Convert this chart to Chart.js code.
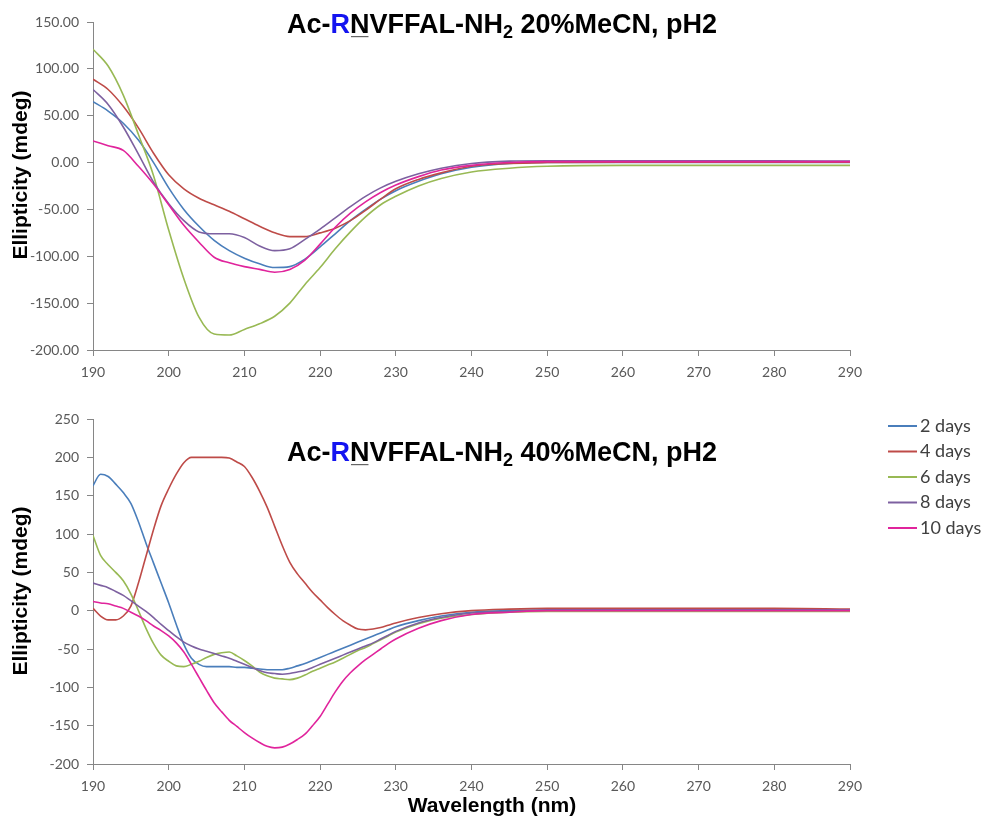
<!DOCTYPE html>
<html>
<head>
<meta charset="utf-8">
<script src="https://cdn.jsdelivr.net/npm/chart.js@4.4.0/dist/chart.umd.min.js"></script>
<style>
  body { margin: 0; background: #fff; }
  canvas { display: block; }
</style>
</head>
<body>
<canvas id="topChart" width="987" height="380"></canvas>
<canvas id="bottomChart" width="987" height="440"></canvas>
<script>
// ---- DATA: 20% MeCN panel ----
const topWavelengths = [190,192,194,196,198,200,202,204,206,208,210,212,214,216,218,220,222,224,226,228,230,233,236,240,245,250,260,270,280,290];
const top2days  = [65,55,42,24,0,-27,-50,-68,-83,-94,-102,-108,-112,-111,-103,-90,-76,-62,-50,-39,-30,-20,-12,-5,-1,0,0,0,0,0];
const top4days  = [89,78,60,37,10,-13,-28,-38,-45,-52,-60,-68,-75,-79,-79,-75,-70,-62,-51,-39,-28,-18,-11,-4,-1,0,0.5,0.5,0.5,0.5];
const top6days  = [121,103,72,30,-14,-72,-124,-165,-183,-184,-178,-172,-164,-150,-130,-112,-92,-74,-58,-45,-36,-25,-17,-10,-6,-4,-3,-3,-3,-3];
const top8days  = [78,62,38,9,-21,-44,-62,-74,-76,-76,-80,-89,-94,-92,-82,-71,-59,-47,-36,-27,-20,-12,-6,-1,1.5,2,2,2,2,1.5];
const top10days = [23,18,13,-4,-23,-45,-67,-85,-101,-107,-111,-114,-117,-114,-104,-87,-69,-54,-42,-32,-24,-15,-8,-3,0,1,1,1,1,1];

// ---- DATA: 40% MeCN panel ----
const botWavelengths = [190,191,192,193,194,195,196,197,198,199,200,201,202,203,204,205,206,207,208,209,
                        210,211,212,213,214,215,216,217,218,219,220,221,222,223,224,225,226,227,228,229,230,
                        233,236,240,245,250,260,270,280,290];
const bot2days  = [163,178,175,165,154,140,116,88,62,36, 10,-18,-44,-62,-70,-73,-73,-73,-73,-74,
                   -74,-75,-76,-77,-77,-77,-75,-72,-69,-65, -61,-57,-53,-49,-45,-41,-37,-33,-29,-25, -21,
                   -13,-7,-2,0,1,1.5,1.5,1,1];
const bot4days  = [3,-7,-12,-12,-7,6,36,71,106,137, 159,178,193,200,200,200,200,200,199,194,
                   188,174,156,135,110,85,63,48,36,24, 14,4,-5,-13,-19,-24,-25,-24,-22,-19, -16,
                   -9,-4,0,2,3,3,3,3,2];
const bot6days  = [98,72,60,50,39,22,0,-23,-43,-58, -66,-72,-73,-70,-66,-61,-57,-55,-54,-59,
                   -65,-72,-80,-85,-88,-89,-90,-88,-84,-79, -75,-71,-67,-62,-57,-52,-48,-43,-38,-33, -28,
                   -17,-10,-5,-2,-1,-1,-1,-1,-1];
const bot8days  = [36,33,30,25,20,13,6,-1,-9,-18, -26,-34,-41,-46,-50,-53,-56,-59,-62,-66,
                   -70,-74,-78,-81,-82,-83,-82,-80,-78,-74, -70,-66,-62,-58,-54,-50,-46,-42,-37,-32, -27,
                   -16,-9,-3,-1,0.5,1,1,1,1];
const bot10days = [12,10,9,6,3,-2,-7,-13,-20,-26, -33,-42,-54,-70,-87,-104,-120,-132,-143,-151,
                   -159,-166,-172,-177,-179,-178,-174,-168,-161,-150, -138,-122,-106,-92,-81,-72,-64,-57,-50,-43, -37,
                   -23,-13,-5,-2,0,0,0,0,0];

const seriesLabels = ['2 days', '4 days', '6 days', '8 days', '10 days'];
const seriesColors = ['#4A7EBB', '#BE4B48', '#98B954', '#7D60A0', '#E0249C'];

const tickFont = { family: 'Lato, sans-serif', size: 14 };
const axisGrey = '#868686';
const boldFont = '"Liberation Sans", Arial, sans-serif';

function makeDatasets(xs, seriesList) {
    return seriesList.map((ys, i) => ({
        label: seriesLabels[i],
        data: xs.map((x, k) => ({ x: x, y: ys[k] })),
        borderColor: seriesColors[i],
        borderWidth: 1.6,
        pointRadius: 0,
        cubicInterpolationMode: 'monotone',
        fill: false,
        order: seriesList.length - 1 - i   // later series drawn on top, like the original
    }));
}

// title with coloured R, underlined N and subscript 2
const richTitle = {
    id: 'richTitle',
    afterDraw(chart, args, opts) {
        const ctx = chart.ctx;
        const big = 'bold 27px ' + boldFont;
        const small = 'bold 18px ' + boldFont;
        const parts = [
            { t: 'Ac-', c: '#000', f: big },
            { t: 'R', c: '#1414F0', f: big },
            { t: 'N', c: '#000', f: big, u: true },
            { t: 'VFFAL-NH', c: '#000', f: big },
            { t: '2', c: '#000', f: small, dy: 5 },
            { t: opts.suffix, c: '#000', f: big }
        ];
        ctx.save();
        ctx.textBaseline = 'alphabetic';
        let w = 0;
        parts.forEach(p => { ctx.font = p.f; p.w = ctx.measureText(p.t).width; w += p.w; });
        let x = opts.centerX - w / 2;
        parts.forEach(p => {
            ctx.font = p.f;
            ctx.fillStyle = p.c;
            ctx.fillText(p.t, x, opts.baseline + (p.dy || 0));
            if (p.u) {
                ctx.fillStyle = '#666';
                ctx.fillRect(x + 1, opts.baseline + 3, p.w - 2, 1.2);
            }
            x += p.w;
        });
        ctx.restore();
    }
};

// axis titles placed where the original puts them
const axisTitles = {
    id: 'axisTitles',
    afterDraw(chart, args, opts) {
        const ctx = chart.ctx;
        ctx.save();
        ctx.font = 'bold 21px ' + boldFont;
        ctx.fillStyle = '#000';
        ctx.textAlign = 'center';
        ctx.textBaseline = 'alphabetic';
        ctx.translate(opts.yX, opts.yY);
        ctx.rotate(-Math.PI / 2);
        ctx.fillText('Ellipticity (mdeg)', 0, 0);
        ctx.restore();
        if (opts.xText) {
            ctx.save();
            ctx.font = 'bold 21px ' + boldFont;
            ctx.fillStyle = '#000';
            ctx.textAlign = 'center';
            ctx.textBaseline = 'alphabetic';
            ctx.fillText(opts.xText, opts.xX, opts.xY);
            ctx.restore();
        }
    }
};

// legend on the right of the lower panel
const sideLegend = {
    id: 'sideLegend',
    afterDraw(chart, args, opts) {
        const ctx = chart.ctx;
        ctx.save();
        ctx.font = '18px Lato, sans-serif';
        ctx.textBaseline = 'middle';
        chart.data.datasets.forEach((ds, i) => {
            const y = opts.top + i * opts.rowGap;
            ctx.strokeStyle = ds.borderColor;
            ctx.lineWidth = 2;
            ctx.beginPath();
            ctx.moveTo(opts.left, y);
            ctx.lineTo(opts.left + 29, y);
            ctx.stroke();
            ctx.fillStyle = '#404040';
            ctx.fillText(ds.label, opts.left + 32, y);
        });
        ctx.restore();
    }
};

function makeOptions(cfg) {
    return {
        responsive: false,
        animation: false,
        layout: { padding: { left: 0, right: 137, top: cfg.padTop, bottom: 0 } },
        plugins: {
            legend: { display: false },
            tooltip: { enabled: false },
            richTitle: { centerX: 502, baseline: cfg.titleBaseline, suffix: cfg.suffix },
            axisTitles: { yX: 27, yY: cfg.yTitleY, xText: cfg.xText, xX: 492, xY: 432 },
            sideLegend: { left: 888, top: 46, rowGap: 25.5 }
        },
        scales: {
            x: {
                type: 'linear',
                min: 190, max: 290,
                afterFit: s => { s.height = cfg.xHeight; },
                ticks: { stepSize: 10, font: tickFont, color: '#595959', padding: 8, maxRotation: 0 },
                grid: { drawOnChartArea: false, drawTicks: true, tickLength: 6, color: axisGrey },
                border: { color: axisGrey, width: 1 }
            },
            y: {
                min: cfg.yMin, max: cfg.yMax,
                afterFit: s => { s.width = 93; },
                ticks: {
                    stepSize: 50, font: tickFont, color: '#595959', padding: 8,
                    callback: v => cfg.decimals ? v.toFixed(2) : String(v)
                },
                grid: { drawOnChartArea: false, drawTicks: true, tickLength: 6, color: axisGrey },
                border: { color: axisGrey, width: 1 }
            }
        }
    };
}

new Chart(document.getElementById('topChart'), {
    type: 'line',
    data: { datasets: makeDatasets(topWavelengths, [top2days, top4days, top6days, top8days, top10days]) },
    options: makeOptions({ padTop: 22, xHeight: 30, yMin: -200, yMax: 150, decimals: true,
                           yTitleY: 175, xText: null, titleBaseline: 33, suffix: ' 20%MeCN, pH2' }),
    plugins: [richTitle, axisTitles]
});

new Chart(document.getElementById('bottomChart'), {
    type: 'line',
    data: { datasets: makeDatasets(botWavelengths, [bot2days, bot4days, bot6days, bot8days, bot10days]) },
    options: makeOptions({ padTop: 39, xHeight: 56, yMin: -200, yMax: 250, decimals: false,
                           yTitleY: 211, xText: 'Wavelength (nm)', titleBaseline: 81, suffix: ' 40%MeCN, pH2' }),
    plugins: [richTitle, axisTitles, sideLegend]
});
</script>
</body>
</html>
